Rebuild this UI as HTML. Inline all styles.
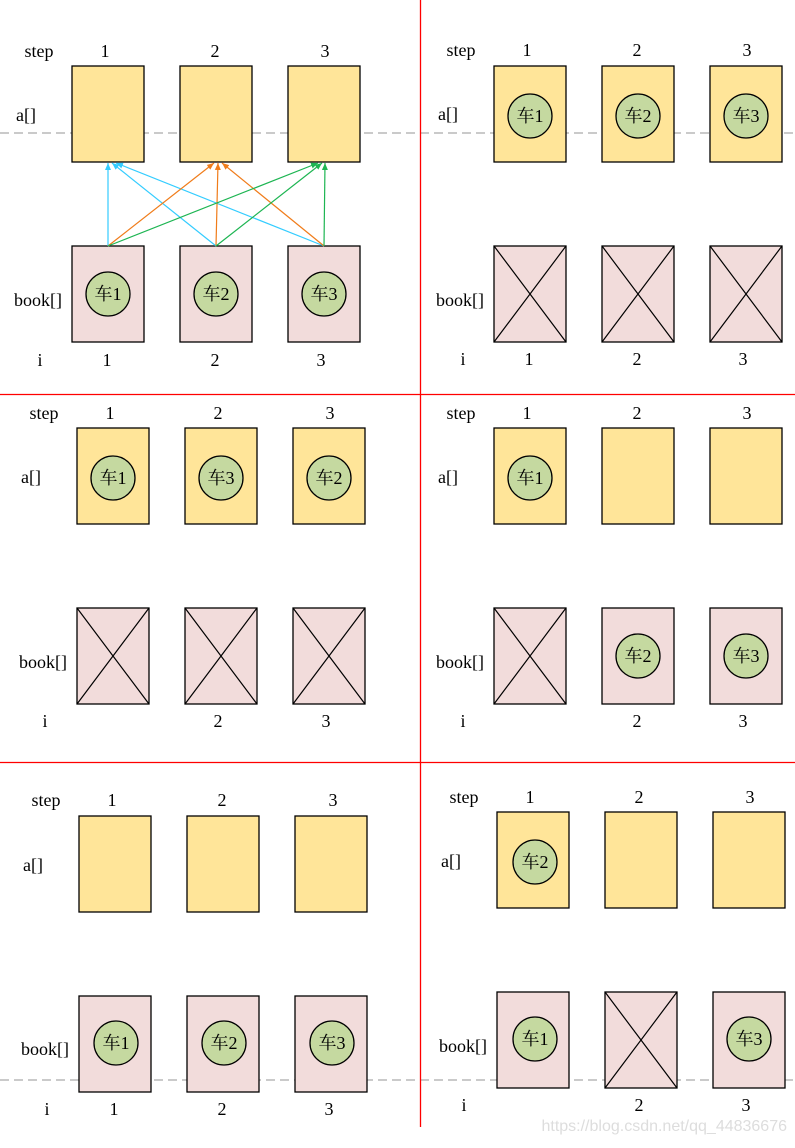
<!DOCTYPE html>
<html><head><meta charset="utf-8"><style>
body{margin:0;background:#fff}
text{font-family:"Liberation Serif","Noto Serif CJK SC",serif;font-size:18px;fill:#000}
.a{fill:#ffe599;stroke:#000;stroke-width:1.3}
.b{fill:#f2dcdb;stroke:#000;stroke-width:1.3}
.c{fill:#c5d9a0;stroke:#000;stroke-width:1.3}
.x{stroke:#000;stroke-width:1.2}
</style></head><body>
<svg width="795" height="1143" viewBox="0 0 795 1143" xmlns="http://www.w3.org/2000/svg">
<defs>
<marker id="mb" markerWidth="8" markerHeight="8" refX="7" refY="4" orient="auto" markerUnits="userSpaceOnUse"><path d="M0,1 L7,4 L0,7 z" fill="#33ccff"/></marker>
<marker id="mo" markerWidth="8" markerHeight="8" refX="7" refY="4" orient="auto" markerUnits="userSpaceOnUse"><path d="M0,1 L7,4 L0,7 z" fill="#f07c1a"/></marker>
<marker id="mg" markerWidth="8" markerHeight="8" refX="7" refY="4" orient="auto" markerUnits="userSpaceOnUse"><path d="M0,1 L7,4 L0,7 z" fill="#1db552"/></marker>
</defs>
<g stroke="#aaa" stroke-dasharray="9,5" stroke-width="1.2">
<line x1="0" y1="133" x2="795" y2="133"/>
<line x1="0" y1="1080" x2="795" y2="1080"/>
</g>
<g stroke="#f00" stroke-width="1.3">
<line x1="420.5" y1="0" x2="420.5" y2="1127"/>
<line x1="0" y1="394.5" x2="795" y2="394.5"/>
<line x1="0" y1="762.5" x2="795" y2="762.5"/>
</g>
<g text-anchor="middle">
<!-- Panel 1 -->
<rect class="a" x="72" y="66" width="72" height="96"/><rect class="a" x="180" y="66" width="72" height="96"/><rect class="a" x="288" y="66" width="72" height="96"/>
<rect class="b" x="72" y="246" width="72" height="96"/><rect class="b" x="180" y="246" width="72" height="96"/><rect class="b" x="288" y="246" width="72" height="96"/>
<text x="39" y="57">step</text><text x="105" y="57">1</text><text x="215" y="57">2</text><text x="325" y="57">3</text>
<text x="26" y="121">a[]</text><text x="38" y="306">book[]</text>
<text x="40" y="366">i</text><text x="107" y="366">1</text><text x="215" y="366">2</text><text x="321" y="366">3</text>
<circle class="c" cx="108" cy="294" r="22"/><text x="108" y="300">车1</text>
<circle class="c" cx="216" cy="294" r="22"/><text x="216" y="300">车2</text>
<circle class="c" cx="324" cy="294" r="22"/><text x="324" y="300">车3</text>
<g stroke-width="1.2" fill="none">
<line x1="108" y1="246" x2="108" y2="163" stroke="#33ccff" marker-end="url(#mb)"/>
<line x1="216" y1="246" x2="112" y2="163" stroke="#33ccff" marker-end="url(#mb)"/>
<line x1="324" y1="246" x2="116" y2="163" stroke="#33ccff" marker-end="url(#mb)"/>
<line x1="108" y1="246" x2="214" y2="163" stroke="#f07c1a" marker-end="url(#mo)"/>
<line x1="216" y1="246" x2="218" y2="163" stroke="#f07c1a" marker-end="url(#mo)"/>
<line x1="324" y1="246" x2="222" y2="163" stroke="#f07c1a" marker-end="url(#mo)"/>
<line x1="108" y1="246" x2="318" y2="163" stroke="#1db552" marker-end="url(#mg)"/>
<line x1="216" y1="246" x2="322" y2="163" stroke="#1db552" marker-end="url(#mg)"/>
<line x1="324" y1="246" x2="325" y2="163" stroke="#1db552" marker-end="url(#mg)"/>
</g>
<!-- Panel 2 -->
<rect class="a" x="494" y="66" width="72" height="96"/><rect class="a" x="602" y="66" width="72" height="96"/><rect class="a" x="710" y="66" width="72" height="96"/>
<rect class="b" x="494" y="246" width="72" height="96"/><rect class="b" x="602" y="246" width="72" height="96"/><rect class="b" x="710" y="246" width="72" height="96"/>
<path class="x" d="M494,246L566,342M566,246L494,342M602,246L674,342M674,246L602,342M710,246L782,342M782,246L710,342"/>
<circle class="c" cx="530" cy="116" r="22"/><text x="530" y="122">车1</text>
<circle class="c" cx="638" cy="116" r="22"/><text x="638" y="122">车2</text>
<circle class="c" cx="746" cy="116" r="22"/><text x="746" y="122">车3</text>
<text x="461" y="56">step</text><text x="527" y="56">1</text><text x="637" y="56">2</text><text x="747" y="56">3</text>
<text x="448" y="120">a[]</text><text x="460" y="306">book[]</text>
<text x="463" y="365">i</text><text x="529" y="365">1</text><text x="637" y="365">2</text><text x="743" y="365">3</text>
<!-- Panel 3 -->
<rect class="a" x="77" y="428" width="72" height="96"/><rect class="a" x="185" y="428" width="72" height="96"/><rect class="a" x="293" y="428" width="72" height="96"/>
<rect class="b" x="77" y="608" width="72" height="96"/><rect class="b" x="185" y="608" width="72" height="96"/><rect class="b" x="293" y="608" width="72" height="96"/>
<path class="x" d="M77,608L149,704M149,608L77,704M185,608L257,704M257,608L185,704M293,608L365,704M365,608L293,704"/>
<circle class="c" cx="113" cy="478" r="22"/><text x="113" y="484">车1</text>
<circle class="c" cx="221" cy="478" r="22"/><text x="221" y="484">车3</text>
<circle class="c" cx="329" cy="478" r="22"/><text x="329" y="484">车2</text>
<text x="44" y="419">step</text><text x="110" y="419">1</text><text x="218" y="419">2</text><text x="330" y="419">3</text>
<text x="31" y="483">a[]</text><text x="43" y="668">book[]</text>
<text x="45" y="727">i</text><text x="218" y="727">2</text><text x="326" y="727">3</text>
<!-- Panel 4 -->
<rect class="a" x="494" y="428" width="72" height="96"/><rect class="a" x="602" y="428" width="72" height="96"/><rect class="a" x="710" y="428" width="72" height="96"/>
<rect class="b" x="494" y="608" width="72" height="96"/><rect class="b" x="602" y="608" width="72" height="96"/><rect class="b" x="710" y="608" width="72" height="96"/>
<path class="x" d="M494,608L566,704M566,608L494,704"/>
<circle class="c" cx="530" cy="478" r="22"/><text x="530" y="484">车1</text>
<circle class="c" cx="638" cy="656" r="22"/><text x="638" y="662">车2</text>
<circle class="c" cx="746" cy="656" r="22"/><text x="746" y="662">车3</text>
<text x="461" y="419">step</text><text x="527" y="419">1</text><text x="637" y="419">2</text><text x="747" y="419">3</text>
<text x="448" y="483">a[]</text><text x="460" y="668">book[]</text>
<text x="463" y="727">i</text><text x="637" y="727">2</text><text x="743" y="727">3</text>
<!-- Panel 5 -->
<rect class="a" x="79" y="816" width="72" height="96"/><rect class="a" x="187" y="816" width="72" height="96"/><rect class="a" x="295" y="816" width="72" height="96"/>
<rect class="b" x="79" y="996" width="72" height="96"/><rect class="b" x="187" y="996" width="72" height="96"/><rect class="b" x="295" y="996" width="72" height="96"/>
<circle class="c" cx="116" cy="1043" r="22"/><text x="116" y="1049">车1</text>
<circle class="c" cx="224" cy="1043" r="22"/><text x="224" y="1049">车2</text>
<circle class="c" cx="332" cy="1043" r="22"/><text x="332" y="1049">车3</text>
<text x="46" y="806">step</text><text x="112" y="806">1</text><text x="222" y="806">2</text><text x="333" y="806">3</text>
<text x="33" y="871">a[]</text><text x="45" y="1055">book[]</text>
<text x="47" y="1115">i</text><text x="114" y="1115">1</text><text x="222" y="1115">2</text><text x="329" y="1115">3</text>
<!-- Panel 6 -->
<rect class="a" x="497" y="812" width="72" height="96"/><rect class="a" x="605" y="812" width="72" height="96"/><rect class="a" x="713" y="812" width="72" height="96"/>
<rect class="b" x="497" y="992" width="72" height="96"/><rect class="b" x="605" y="992" width="72" height="96"/><rect class="b" x="713" y="992" width="72" height="96"/>
<path class="x" d="M605,992L677,1088M677,992L605,1088"/>
<circle class="c" cx="535" cy="862" r="22"/><text x="535" y="868">车2</text>
<circle class="c" cx="535" cy="1039" r="22"/><text x="535" y="1045">车1</text>
<circle class="c" cx="749" cy="1039" r="22"/><text x="749" y="1045">车3</text>
<text x="464" y="803">step</text><text x="530" y="803">1</text><text x="639" y="803">2</text><text x="750" y="803">3</text>
<text x="451" y="867">a[]</text><text x="463" y="1052">book[]</text>
<text x="464" y="1111">i</text><text x="639" y="1111">2</text><text x="746" y="1111">3</text>
</g>
<text x="787" y="1131" text-anchor="end" style="font-family:'Liberation Sans',sans-serif;font-size:16px;fill:#ddd">https://blog.csdn.net/qq_44836676</text>
</svg>
</body></html>
